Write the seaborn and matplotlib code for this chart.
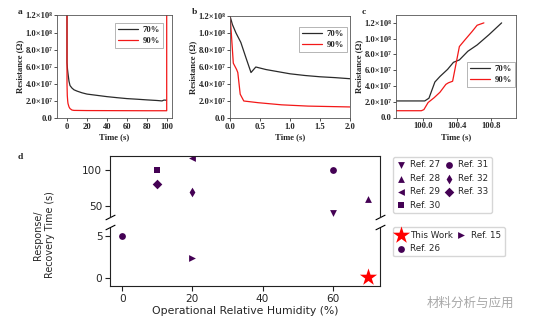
import matplotlib
matplotlib.use("Agg")
import matplotlib.pyplot as plt
import numpy as np
import pandas as pd
import seaborn as sns

# ---------------- data ----------------
# panel a (full cycle)
a_t70 = [0, 0, 0.5, 1, 2, 3, 5, 7, 10, 15, 20, 30, 40, 50, 60, 70, 80, 90, 95, 97, 99.5]
a_r70 = [1.25e8, 6.5e7, 5.7e7, 5.2e7, 4.3e7, 3.8e7, 3.5e7, 3.3e7, 3.15e7, 2.95e7, 2.8e7,
         2.65e7, 2.5e7, 2.38e7, 2.27e7, 2.2e7, 2.12e7, 2.05e7, 2.0e7, 2.1e7, 2.08e7]
a_t90 = [0, 0, 0.3, 0.7, 1, 2, 3, 5, 7, 20, 50, 80, 99.7, 99.7]
a_r90 = [1.25e8, 4.0e7, 2.6e7, 2.0e7, 1.7e7, 1.3e7, 1.1e7, 9.3e6, 8.9e6, 8.7e6, 8.6e6,
         8.5e6, 8.5e6, 1.25e8]
# panel b (response)
b_t70 = [0, 0.04, 0.1, 0.18, 0.27, 0.35, 0.43, 0.6, 0.8, 1.0, 1.25, 1.5, 1.75, 2.0]
b_r70 = [1.2e8, 1.1e8, 1.0e8, 8.9e7, 7.0e7, 5.35e7, 6.0e7, 5.7e7, 5.45e7, 5.2e7, 5.0e7,
         4.85e7, 4.75e7, 4.62e7]
b_t90 = [0, 0.017, 0.055, 0.11, 0.13, 0.17, 0.23, 0.47, 0.86, 1.3, 2.0]
b_r90 = [1.2e8, 1.05e8, 6.45e7, 5.7e7, 5.35e7, 2.8e7, 2.0e7, 1.8e7, 1.55e7, 1.4e7, 1.3e7]
# panel c (recovery)
c_t70 = [99.68, 100.02, 100.07, 100.14, 100.2, 100.29, 100.36, 100.43, 100.53, 100.64,
         100.78, 100.93]
c_r70 = [2.1e7, 2.1e7, 2.45e7, 4.5e7, 5.2e7, 6.1e7, 7.0e7, 7.3e7, 8.4e7, 9.2e7, 1.05e8, 1.2e8]
c_t90 = [99.68, 99.98, 100.01, 100.06, 100.13, 100.2, 100.27, 100.3, 100.35, 100.43, 100.5,
         100.58, 100.64, 100.72]
c_r90 = [8.6e6, 8.6e6, 1.0e7, 1.9e7, 2.5e7, 3.2e7, 4.2e7, 4.4e7, 4.6e7, 9.0e7, 9.9e7,
         1.09e8, 1.17e8, 1.2e8]
rh_labels = ["70%", "90%"]

r_ticks = [0, 2e7, 4e7, 6e7, 8e7, 1e8, 1.2e8]
r_ticklabels = ["0.0", "2.0×10⁷", "4.0×10⁷", "6.0×10⁷", "8.0×10⁷", "1.0×10⁸", "1.2×10⁸"]
a_xticks = [0, 20, 40, 60, 80, 100]
a_xticklabels = ["0", "20", "40", "60", "80", "100"]
b_xticks = [0, 0.5, 1.0, 1.5, 2.0]
b_xticklabels = ["0.0", "0.5", "1.0", "1.5", "2.0"]
c_xticks = [100.0, 100.4, 100.8]
c_xticklabels = ["100.0", "100.4", "100.8"]

# panel d (comparison)
d_labels = ["This Work", "Ref. 15", "Ref. 26", "Ref. 27", "Ref. 28", "Ref. 29", "Ref. 30",
            "Ref. 31", "Ref. 32", "Ref. 33"]
d_rh = [70, 20, 0, 60, 70, 20, 10, 60, 20, 10]
d_time = [0.1, 2.4, 5, 40, 60, 117, 100, 100, 70, 80]

# ---------------- style ----------------
sns.set_style("ticks")
plt.rcParams["font.family"] = ["DejaVu Sans"]

W, H = 533, 327
fig = plt.figure(figsize=(W / 100, H / 100), dpi=100)

BLACK = "#2a2a2a"
RED = "#f31818"
PURPLE = "#440154"
SERIF = dict(fontfamily=["Liberation Serif", "DejaVu Serif"], fontweight="bold")
TS = 6.2


def rect(l, t, r, b):
    return [l / W, 1 - b / H, (r - l) / W, (b - t) / H]


def resist_panel(ax, t70, r70, t90, r90, xlim, ylim, xt, xtl, leg_anchor):
    df = pd.DataFrame({
        "t": list(t70) + list(t90),
        "R": list(r70) + list(r90),
        "RH": [rh_labels[0]] * len(t70) + [rh_labels[1]] * len(t90),
    })
    sns.lineplot(data=df, x="t", y="R", hue="RH", palette={rh_labels[0]: BLACK, rh_labels[1]: RED},
                 sort=False, estimator=None, lw=0.9, ax=ax)
    ax.set_xlim(*xlim)
    ax.set_ylim(*ylim)
    ax.set_xticks(xt)
    ax.set_xticklabels(xtl, fontsize=TS, **SERIF)
    ax.set_yticks(r_ticks)
    ax.set_yticklabels(r_ticklabels, fontsize=TS, **SERIF)
    ax.tick_params(length=2.2, width=0.6, pad=1.2, color="#333333")
    for s in ax.spines.values():
        s.set_linewidth(0.6)
        s.set_color("#555555")
    ax.set_xlabel("Time (s)", fontsize=TS, labelpad=2, **SERIF)
    ax.set_ylabel("Resistance (Ω)", fontsize=TS, labelpad=1.2, **SERIF)
    h, l = ax.get_legend_handles_labels()
    ax.legend(h, l, loc="upper right", bbox_to_anchor=leg_anchor, borderaxespad=0,
              prop=dict(family="Liberation Serif", weight="bold", size=TS),
              fancybox=False, edgecolor="#999999", framealpha=1, handlelength=2.4,
              handletextpad=0.5, borderpad=0.35, labelspacing=0.3)
    ax.get_legend().get_frame().set_linewidth(0.5)


ax_a = fig.add_axes(rect(57, 15.5, 172, 118))
resist_panel(ax_a, a_t70, a_r70, a_t90, a_r90, (-10, 105), (0, 1.2e8), a_xticks, a_xticklabels,
             (0.92, 0.925))
ax_b = fig.add_axes(rect(230, 16, 350, 118))
resist_panel(ax_b, b_t70, b_r70, b_t90, b_r90, (0, 2.0), (0, 1.2e8), b_xticks, b_xticklabels,
             (0.975, 0.89))
ax_c = fig.add_axes(rect(396, 15, 516, 117.5))
resist_panel(ax_c, c_t70, c_r70, c_t90, c_r90, (99.68, 101.1), (0, 1.3e8), c_xticks, c_xticklabels,
             (0.99, 0.54))

for letter, x, y in [("a", 20, 12), ("b", 194, 12), ("c", 364, 12), ("d", 20, 157)]:
    fig.text(x / W, 1 - y / H, letter, ha="center", va="center", fontsize=6.8, **SERIF)

# ---------------- panel d: broken axis ----------------
ax_t = fig.add_axes(rect(110, 156, 380, 216.5))
ax_bt = fig.add_axes(rect(110, 227.5, 380, 286), sharex=ax_t)

marker_of = {"This Work": "*", "Ref. 15": ">", "Ref. 26": "o", "Ref. 27": "v", "Ref. 28": "^",
             "Ref. 29": "<", "Ref. 30": "s", "Ref. 31": "o", "Ref. 32": "d", "Ref. 33": "D"}
dfd = pd.DataFrame({"label": d_labels, "rh": d_rh, "time": d_time})
top_order = ["Ref. 27", "Ref. 28", "Ref. 29", "Ref. 30", "Ref. 31", "Ref. 32", "Ref. 33"]
bot_order = ["This Work", "Ref. 26", "Ref. 15"]

for lab in top_order:
    sub = dfd[dfd["label"] == lab]
    sns.scatterplot(data=sub, x="rh", y="time", marker=marker_of[lab], color=PURPLE, s=24,
                    linewidth=0, label=lab, ax=ax_t)
for lab in bot_order:
    sub = dfd[dfd["label"] == lab]
    is_star = lab == "This Work"
    sns.scatterplot(data=sub, x="rh", y="time", marker=marker_of[lab],
                    color="red" if is_star else PURPLE, s=170 if is_star else 24,
                    linewidth=0, label=lab, ax=ax_bt)

ax_t.set_xlim(-3.5, 73.5)
ax_t.set_ylim(35, 120)
ax_bt.set_ylim(-1, 6)
ax_t.set_yticks([50, 100])
ax_bt.set_yticks([0, 5])
ax_bt.set_xticks([0, 20, 40, 60])
ax_t.spines["bottom"].set_visible(False)
ax_bt.spines["top"].set_visible(False)
ax_t.tick_params(axis="x", bottom=False, labelbottom=False)
for ax in (ax_t, ax_bt):
    ax.set_xlabel("")
    ax.set_ylabel("")
    ax.tick_params(labelsize=7.6, color="#222222", width=0.8, length=3.5, pad=2)
    for s in ax.spines.values():
        s.set_color("#222222")
        s.set_linewidth(0.8)
ax_bt.set_xlabel("Operational Relative Humidity (%)", fontsize=7.8, labelpad=2)
fig.text(44 / W, 1 - 235 / H, "Response/\nRecovery Time (s)", rotation=90, ha="center",
         va="center", fontsize=6.9, multialignment="center")

dd = 0.5
kw = dict(marker=[(-1, -dd), (1, dd)], markersize=7, linestyle="none", color="k", mec="k",
          mew=0.8, clip_on=False)
ax_t.plot([0, 1], [0, 0], transform=ax_t.transAxes, **kw)
ax_bt.plot([0, 1], [1, 1], transform=ax_bt.transAxes, **kw)

leg_kw = dict(loc="upper left", bbox_transform=fig.transFigure, borderaxespad=0, ncol=2,
              fontsize=6.3, handlelength=1.0, handletextpad=0.6, columnspacing=0.4,
              borderpad=0.4, labelspacing=0.5, scatterpoints=1)
h, l = ax_t.get_legend_handles_labels()
ax_t.legend(h, l, bbox_to_anchor=(393 / W, 1 - 157 / H), **leg_kw)
h, l = ax_bt.get_legend_handles_labels()
ax_bt.legend(h, l, bbox_to_anchor=(393 / W, 1 - 227 / H), **leg_kw)

# watermark
fig.text(427 / W, 1 - 303 / H, "材料分析与应用", fontfamily=["Noto Sans CJK SC"], fontsize=9,
         color="#a8a8a8", ha="left", va="center")

fig.savefig("out.png", dpi=100)
